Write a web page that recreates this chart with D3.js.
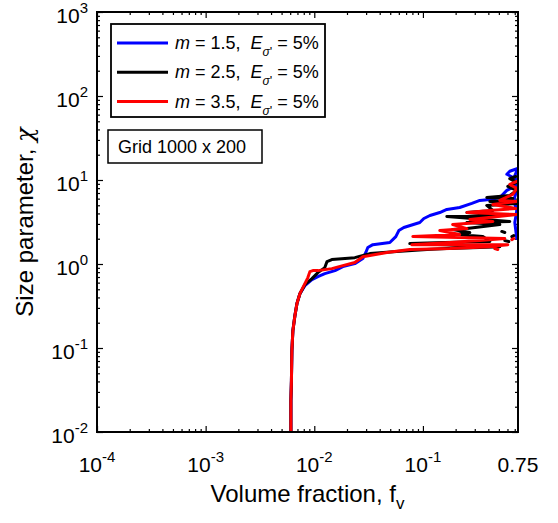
<!DOCTYPE html>
<html>
<head>
<meta charset="utf-8">
<script src="https://cdn.jsdelivr.net/npm/d3@7"></script>
<style>
  body { margin: 0; background: #fff; }
  svg { display: block; }
  text { font-family: Arial, "Liberation Sans", sans-serif; fill: #000; }
</style>
</head>
<body>
<svg id="chart" width="558" height="523"></svg>
<script>
// tick values and labels
const xTicks = [1e-4, 1e-3, 1e-2, 1e-1, 0.75];
const xTickLabels = ["10^-4", "10^-3", "10^-2", "10^-1", "0.75"];
const yTicks = [1e-2, 1e-1, 1, 10, 100, 1000];
const yTickLabels = ["10^-2", "10^-1", "10^0", "10^1", "10^2", "10^3"];

// legend entries
const seriesM = ["1.5", "2.5", "3.5"];
const seriesE = ["5%", "5%", "5%"];
const seriesColors = ["#0000ff", "#000000", "#ff0000"];

// shared vertical rise (all three curves overlap here)
const commonF = [0.00609, 0.00609, 0.00616, 0.00622, 0.00635, 0.00663, 0.00692, 0.00737];
const commonChi = [0.01, 0.0234, 0.0406, 0.0926, 0.160, 0.242, 0.337, 0.443];

// m = 1.5 (blue)
const blueF = [0.00819, 0.00951, 0.0108, 0.0125, 0.0155, 0.0183, 0.0236, 0.0280, 0.0298, 0.0311,
  0.0346, 0.0496, 0.0563, 0.0600, 0.0667, 0.0936, 0.102, 0.116, 0.143, 0.166,
  0.218, 0.282, 0.334, 0.413, 0.510, 0.592, 0.671, 0.731, 0.592, 0.630,
  0.745, 0.685, 0.731, 0.685, 0.731, 0.701, 0.731];
const blueChi = [0.552, 0.652, 0.708, 0.768, 0.834, 0.931, 1.01, 1.16, 1.37, 1.57,
  1.70, 1.80, 2.12, 2.50, 2.72, 3.12, 3.48, 3.78, 4.10, 4.46,
  4.71, 5.26, 5.71, 5.87, 6.20, 7.52, 8.17, 10.2, 11.7, 12.7,
  13.7, 10.4, 7.52, 5.71, 4.34, 3.12, 2.01];

// m = 2.5 (black), null = break in the line
const blackF = [0.00819, 0.00951, 0.0108, 0.0125, 0.0131, 0.0145, 0.0236, 0.0325, 0.0575, 0.109,
  0.166, 0.334, 0.510, 0.0757, 0.159, 0.413, 0.356, 0.205, 0.270, 0.188,
  0.254, 0.510, 0.254, 0.630, 0.166, 0.543, 0.254, 0.440, 0.387, 0.731,
  0.413, 0.671, 0.387, 0.630, 0.731, 0.604, 0.731, 0.630, 0.716, null,
  0.532, 0.567, null, 0.567, 0.617, null, 0.658, 0.685];
const blackChi = [0.567, 0.670, 0.790, 0.906, 1.07, 1.13, 1.19, 1.33, 1.41, 1.49,
  1.53, 1.57, 1.61, 1.75, 1.80, 1.85, 2.12, 2.24, 2.37, 2.57,
  2.64, 2.95, 3.12, 3.21, 3.68, 3.78, 4.10, 4.34, 4.98, 5.26,
  5.56, 6.03, 6.20, 6.55, 7.52, 8.39, 9.36, 10.4, 11.0, null,
  2.44, 2.37, null, 1.90, 1.85, null, 2.12, 2.18];

// m = 3.5 (red)
const redF = [0.00873, 0.00911, 0.00970, 0.0108, 0.0145, 0.0183, 0.0236, 0.0280, 0.0325, 0.0466,
  0.0757, 0.177, 0.413, 0.604, 0.0791, 0.177, 0.334, 0.567, 0.0807, 0.218,
  0.143, 0.254, 0.188, 0.440, 0.270, 0.731, 0.254, 0.413, 0.716, 0.440,
  0.731, 0.510, 0.671, 0.731, 0.630, 0.731, null, 0.458, 0.489, null,
  0.658, 0.685];
const redChi = [0.689, 0.811, 0.834, 0.834, 0.881, 0.957, 1.04, 1.22, 1.26, 1.37,
  1.49, 1.53, 1.61, 1.70, 1.70, 1.80, 1.90, 2.01, 2.12, 2.24,
  2.50, 2.64, 2.95, 3.21, 3.39, 3.88, 4.10, 4.34, 4.58, 5.12,
  5.56, 5.71, 6.73, 7.94, 8.85, 9.62, null, 1.53, 1.49, null,
  1.95, 2.01];

const margin = {top: 12, right: 40, bottom: 91, left: 97};
const W = 558, H = 523;
const width = W - margin.left - margin.right;
const height = H - margin.top - margin.bottom;

const svg = d3.select("#chart");
const g = svg.append("g").attr("transform", `translate(${margin.left},${margin.top})`);

const x = d3.scaleLog().domain([1e-4, 0.75]).range([0, width]);
const y = d3.scaleLog().domain([1e-2, 1e3]).range([height, 0]);

// minor ticks
let xMinor = [], yMinor = [];
for (let k = -4; k <= -1; k++) for (let j = 2; j <= 9; j++) {
  const v = j * Math.pow(10, k);
  if (v < 0.75) xMinor.push(v);
}
for (let k = -2; k <= 2; k++) for (let j = 2; j <= 9; j++) yMinor.push(j * Math.pow(10, k));

function tickAxis(axisFn, scale, vals, len, transform) {
  const a = g.append("g").attr("transform", transform)
    .call(axisFn(scale).tickValues(vals).tickSize(len).tickSizeOuter(0).tickFormat(""));
  a.select(".domain").remove();
  a.selectAll("line").attr("stroke", "#000").attr("stroke-width", 1.2);
}
// inward ticks on all four sides
tickAxis(d3.axisTop, x, xTicks.slice(0, 4), 6, `translate(0,${height})`);
tickAxis(d3.axisTop, x, xMinor, 3, `translate(0,${height})`);
tickAxis(d3.axisBottom, x, xTicks.slice(0, 4), 6, "translate(0,0)");
tickAxis(d3.axisBottom, x, xMinor, 3, "translate(0,0)");
tickAxis(d3.axisRight, y, yTicks, 6, "translate(0,0)");
tickAxis(d3.axisRight, y, yMinor, 3, "translate(0,0)");
tickAxis(d3.axisLeft, y, yTicks, 6, `translate(${width},0)`);
tickAxis(d3.axisLeft, y, yMinor, 3, `translate(${width},0)`);

// curves
g.append("clipPath").attr("id", "clip").append("rect")
  .attr("width", width).attr("height", height);

const line = d3.line()
  .defined(d => d !== null)
  .x(d => x(d[0]))
  .y(d => y(d[1]));

const allF = [commonF.concat(blueF), commonF.concat(blackF), commonF.concat(redF)];
const allChi = [commonChi.concat(blueChi), commonChi.concat(blackChi), commonChi.concat(redChi)];

for (let s = 0; s < 3; s++) {
  const pts = allF[s].map((f, i) => f === null ? null : [f, allChi[s][i]]);
  g.append("path")
    .attr("clip-path", "url(#clip)")
    .attr("d", line(pts))
    .attr("fill", "none")
    .attr("stroke", seriesColors[s])
    .attr("stroke-width", 3)
    .attr("stroke-linejoin", "round")
    .attr("stroke-linecap", "round");
}

// box
g.append("rect").attr("width", width).attr("height", height)
  .attr("fill", "none").attr("stroke", "#000").attr("stroke-width", 2);

// tick labels with superscript exponents
function powLabel(sel, label, size, expSize, rise) {
  const parts = label.split("^");
  sel.append("tspan").text(parts[0]).attr("font-size", size);
  if (parts.length > 1) {
    sel.append("tspan").text(parts[1]).attr("font-size", expSize).attr("dy", -rise);
  }
}

xTicks.forEach((v, i) => {
  const t = g.append("text")
    .attr("x", x(v)).attr("y", height + 40)
    .attr("text-anchor", "middle");
  powLabel(t, xTickLabels[i], 21, 15, 10);
});

yTicks.forEach((v, i) => {
  const t = g.append("text")
    .attr("x", -9).attr("y", y(v) + 11)
    .attr("text-anchor", "end");
  powLabel(t, yTickLabels[i], 21, 15, 10);
});

// axis titles
const xt = g.append("text")
  .attr("x", width / 2).attr("y", height + 70)
  .attr("text-anchor", "middle").attr("font-size", 24);
xt.append("tspan").text("Volume fraction, f");
xt.append("tspan").text("v").attr("font-size", 17).attr("dy", 7);

const yt = svg.append("text")
  .attr("transform", `translate(33,${margin.top + height / 2}) rotate(-90)`)
  .attr("text-anchor", "middle").attr("font-size", 24);
yt.append("tspan").text("Size parameter, ");
yt.append("tspan").text("χ").attr("font-family", "'DejaVu Serif', serif").attr("font-style", "italic");

// legend
const leg = svg.append("g");
leg.append("rect").attr("x", 111).attr("y", 24).attr("width", 214).attr("height", 93)
  .attr("fill", "#fff").attr("stroke", "#000").attr("stroke-width", 1.8);
seriesM.forEach((m, i) => {
  const cy = 43 + i * 29.3;
  leg.append("line").attr("x1", 117).attr("x2", 168).attr("y1", cy).attr("y2", cy)
    .attr("stroke", seriesColors[i]).attr("stroke-width", 3);
  const t = leg.append("text").attr("x", 175).attr("y", cy + 6)
    .attr("font-size", 18).style("white-space", "pre");
  t.append("tspan").text("m").attr("font-style", "italic");
  t.append("tspan").text(` = ${m},  `);
  t.append("tspan").text("E").attr("font-style", "italic");
  t.append("tspan").text("σ").attr("font-style", "italic").attr("font-size", 12).attr("dy", 7);
  t.append("tspan").text("'").attr("font-size", 13);
  t.append("tspan").text(` = ${seriesE[i]}`).attr("dy", -7);
});

// grid annotation
svg.append("rect").attr("x", 108).attr("y", 130).attr("width", 154).attr("height", 33)
  .attr("fill", "#fff").attr("stroke", "#000").attr("stroke-width", 1.5);
svg.append("text").attr("x", 118).attr("y", 153).attr("font-size", 18).text("Grid 1000 x 200");
</script>
</body>
</html>
